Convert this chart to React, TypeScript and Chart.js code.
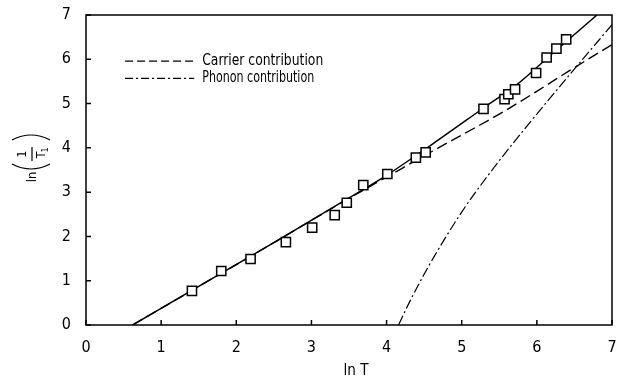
import React, { useEffect, useRef } from 'react';
import { Chart, registerables } from 'chart.js';

Chart.register(...registerables);

// measured points (ln T, ln(1/T1))
const measX = [1.41, 1.80, 2.19, 2.66, 3.01, 3.31, 3.47, 3.69, 4.01, 4.39, 4.52, 5.29, 5.57, 5.62, 5.71, 5.99, 6.13, 6.26, 6.39];
const measY = [0.77, 1.22, 1.49, 1.87, 2.20, 2.48, 2.76, 3.16, 3.41, 3.78, 3.90, 4.88, 5.10, 5.21, 5.32, 5.69, 6.04, 6.24, 6.45];

// total fit curve
const totalX = [0.62, 1.5, 2.5, 3.5, 4.0, 4.69, 5.29, 5.75, 6.2, 6.8];
const totalY = [0, 0.87, 1.86, 2.87, 3.38, 4.18, 4.9, 5.45, 6.12, 7.0];

// carrier contribution
const carrierX = [0.62, 1.5, 2.5, 3.5, 4.0, 4.69, 5.14, 5.58, 6.02, 6.46, 7.0];
const carrierY = [0, 0.87, 1.86, 2.86, 3.34, 4.0, 4.42, 4.84, 5.3, 5.77, 6.33];

// phonon contribution
const phononX = [4.16, 4.3, 4.56, 5.0, 5.45, 5.93, 6.49, 7.0];
const phononY = [0, 0.5, 1.33, 2.55, 3.6, 4.62, 5.76, 6.78];

const xTicks = [0, 1, 2, 3, 4, 5, 6, 7];
const yTicks = [0, 1, 2, 3, 4, 5, 6, 7];

const legendLabels = ['Carrier contribution', 'Phonon contribution'];
const xTitle = 'ln T';

const FONT = "'Liberation Sans Narrow', 'DejaVu Sans Condensed', 'Liberation Sans', sans-serif";
const CARRIER_DASH = [11, 5];
const PHONON_DASH = [10, 3, 2, 3];

const pts = (xs: number[], ys: number[]) => xs.map((x, i) => ({ x, y: ys[i] }));

function squeezeText(ctx: CanvasRenderingContext2D, text: string, x: number, y: number, width: number, align: 'left' | 'center') {
  const w = ctx.measureText(text).width;
  const k = Math.min(1, width / w);
  ctx.save();
  ctx.translate(x, y);
  ctx.scale(k, 1);
  ctx.textAlign = align;
  ctx.fillText(text, 0, 0);
  ctx.restore();
}

const framePlugin = {
  id: 'frameAndText',
  afterDraw(chart: any) {
    const { ctx, chartArea } = chart;
    const xs = chart.scales.x;
    const ys = chart.scales.y;
    ctx.save();
    ctx.strokeStyle = '#000';
    ctx.lineWidth = 1.5;
    ctx.setLineDash([]);
    ctx.strokeRect(chartArea.left, chartArea.top, chartArea.right - chartArea.left, chartArea.bottom - chartArea.top);
    // inward ticks
    ctx.beginPath();
    xTicks.forEach((v) => {
      const px = xs.getPixelForValue(v);
      ctx.moveTo(px, chartArea.bottom);
      ctx.lineTo(px, chartArea.bottom - 5);
    });
    yTicks.forEach((v) => {
      const py = ys.getPixelForValue(v);
      ctx.moveTo(chartArea.left, py);
      ctx.lineTo(chartArea.left + 5, py);
    });
    ctx.stroke();

    // legend
    const lx0 = xs.getPixelForValue(0.52);
    const lx1 = xs.getPixelForValue(1.44);
    const ly0 = ys.getPixelForValue(5.96);
    const ly1 = ys.getPixelForValue(5.57);
    ctx.lineWidth = 1.3;
    ctx.setLineDash([8, 4]);
    ctx.beginPath();
    ctx.moveTo(lx0, ly0);
    ctx.lineTo(lx1, ly0);
    ctx.stroke();
    ctx.setLineDash([8, 3, 2, 3]);
    ctx.beginPath();
    ctx.moveTo(lx0, ly1);
    ctx.lineTo(lx1, ly1);
    ctx.stroke();
    ctx.setLineDash([]);
    ctx.fillStyle = '#000';
    ctx.font = `16px ${FONT}`;
    ctx.textBaseline = 'middle';
    squeezeText(ctx, legendLabels[0], lx1 + 8, ly0, 121, 'left');
    squeezeText(ctx, legendLabels[1], lx1 + 8, ly1, 112, 'left');

    // x title
    ctx.font = `16px ${FONT}`;
    squeezeText(ctx, xTitle, (chartArea.left + chartArea.right) / 2 + 7, 371, 25, 'center');

    // y title ln(1/T1), rotated
    ctx.translate(33, 155);
    ctx.rotate(-Math.PI / 2);
    ctx.font = `13px ${FONT}`;
    ctx.textAlign = 'center';
    ctx.textBaseline = 'middle';
    ctx.fillText('ln', -22, 0);
    ctx.lineWidth = 1.2;
    ctx.beginPath();
    ctx.moveTo(-9, -21);
    ctx.quadraticCurveTo(-19, -2, -9, 17);
    ctx.moveTo(15, -21);
    ctx.quadraticCurveTo(25, -2, 15, 17);
    ctx.moveTo(-6, -1);
    ctx.lineTo(8, -1);
    ctx.stroke();
    ctx.font = `12px ${FONT}`;
    ctx.fillText('1', 1, -10);
    ctx.fillText('T', 0, 9);
    ctx.font = `9px ${FONT}`;
    ctx.fillText('1', 5, 13);
    ctx.restore();
  },
};

export default function App() {
  const ref = useRef<HTMLCanvasElement | null>(null);
  useEffect(() => {
    document.body.style.margin = '0';
    const canvas = ref.current;
    if (!canvas) return;
    const chart = new Chart(canvas, {
      type: 'scatter',
      data: {
        datasets: [
          {
            label: 'Measured',
            data: pts(measX, measY),
            showLine: false,
            pointStyle: 'rect',
            pointRadius: 6.5,
            pointBackgroundColor: '#fff',
            pointBorderColor: '#000',
            pointBorderWidth: 1.5,
          },
          {
            label: 'Total',
            data: pts(totalX, totalY),
            showLine: true,
            borderColor: '#000',
            borderWidth: 1.5,
            pointRadius: 0,
            cubicInterpolationMode: 'monotone',
          },
          {
            label: legendLabels[0],
            data: pts(carrierX, carrierY),
            showLine: true,
            borderColor: '#000',
            borderWidth: 1.4,
            borderDash: CARRIER_DASH,
            pointRadius: 0,
            cubicInterpolationMode: 'monotone',
          },
          {
            label: legendLabels[1],
            data: pts(phononX, phononY),
            showLine: true,
            borderColor: '#000',
            borderWidth: 1.2,
            borderDash: PHONON_DASH,
            pointRadius: 0,
            cubicInterpolationMode: 'monotone',
          },
        ],
      },
      options: {
        animation: false,
        responsive: false,
        maintainAspectRatio: false,
        layout: { padding: { left: 0, right: 6, top: 15, bottom: 0 } },
        plugins: { legend: { display: false }, tooltip: { enabled: false } },
        scales: {
          x: {
            type: 'linear',
            min: 0,
            max: 7,
            grid: { display: false, drawTicks: false },
            border: { display: false },
            afterFit: (s: any) => {
              s.height = 56;
              s.paddingLeft = 0;
              s.paddingRight = 0;
            },
            afterBuildTicks: (s: any) => { s.ticks = xTicks.map((v) => ({ value: v })); },
            ticks: { color: '#000', padding: 13, font: { family: FONT, size: 16 } },
          },
          y: {
            type: 'linear',
            min: 0,
            max: 7,
            grid: { display: false, drawTicks: false },
            border: { display: false },
            afterFit: (s: any) => {
              s.width = 86;
              s.paddingTop = 0;
              s.paddingBottom = 0;
            },
            afterBuildTicks: (s: any) => { s.ticks = yTicks.map((v) => ({ value: v })); },
            ticks: { color: '#000', padding: 15, font: { family: FONT, size: 16 } },
          },
        },
      },
      plugins: [framePlugin],
    });
    return () => chart.destroy();
  }, []);
  return (
    <div style={{ width: 620, height: 381, background: '#fff' }}>
      <canvas ref={ref} width={620} height={381} style={{ display: 'block' }} />
    </div>
  );
}
